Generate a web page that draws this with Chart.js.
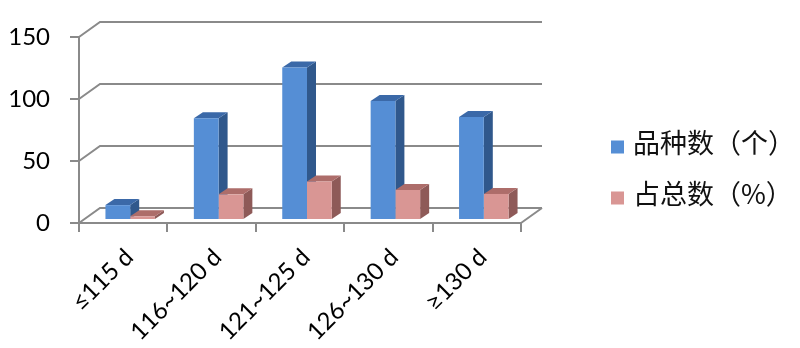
<!DOCTYPE html>
<html>
<head>
    <meta charset="utf-8"/>
    <title>品种数</title>
    <script src="https://cdn.jsdelivr.net/npm/chart.js@4.4.0/dist/chart.umd.min.js"></script>
    <style>
        html, body { margin: 0; padding: 0; background: #fff; }
        .chart-container { position: relative; width: 800px; height: 348px; }
    </style>
</head>
<body>
<div class="chart-container">
    <canvas id="daysChart"></canvas>
</div>
<script>
    const categories = ['≤115 d', '116~120 d', '121~125 d', '126~130 d', '≥130 d'];
    const varietyCount = [12, 82, 123, 96, 83];
    const sharePercent = [3.0, 20.7, 31.1, 24.2, 21.0];
    const seriesNames = ['品种数（个）', '占总数（%）'];
    const yTicks = [0, 50, 100, 150];

    // look of the fake 3D box
    const lineColor = '#8a8a8a';
    const wallDX = 21, wallDY = 15;      // depth of the walls
    const shiftX = 7, shiftY = 3;        // bars stand a bit behind the front plane
    const barDX = 9, barDY = 6;          // depth of each bar
    const faces = [
        {front: '#558ed5', side: '#30588c', top: '#3b69a8'},
        {front: '#d99694', side: '#8e5a58', top: '#ad6d6a'}
    ];

    /**
     * Draws walls, floor and the side/top faces of the bars,
     * then shifts the canvas so the library draws the front faces behind the front plane
     */
    const box3d = {
        id: 'box3d',
        beforeDatasetsDraw(chart) {
            const {ctx, chartArea: a, scales: {y}} = chart;
            ctx.save();
            ctx.strokeStyle = lineColor;
            ctx.lineWidth = 2;
            yTicks.forEach(v => {
                const py = y.getPixelForValue(v);
                ctx.beginPath();
                ctx.moveTo(a.left, py);
                ctx.lineTo(a.left + wallDX, py - wallDY);
                ctx.lineTo(a.right + wallDX, py - wallDY);
                ctx.stroke();
            });
            ctx.beginPath();
            ctx.moveTo(a.right, a.bottom);
            ctx.lineTo(a.right + wallDX, a.bottom - wallDY);
            ctx.stroke();

            chart.data.datasets.forEach((ds, i) => {
                const meta = chart.getDatasetMeta(i);
                meta.data.forEach(el => {
                    const l = el.x - el.width / 2 + shiftX;
                    const r = el.x + el.width / 2 + shiftX;
                    const t = el.y - shiftY;
                    const b = el.base - shiftY;
                    ctx.fillStyle = faces[i].side;
                    ctx.beginPath();
                    ctx.moveTo(r, t);
                    ctx.lineTo(r + barDX, t - barDY);
                    ctx.lineTo(r + barDX, b - barDY);
                    ctx.lineTo(r, b);
                    ctx.closePath();
                    ctx.fill();
                    ctx.fillStyle = faces[i].top;
                    ctx.beginPath();
                    ctx.moveTo(l, t);
                    ctx.lineTo(l + barDX, t - barDY);
                    ctx.lineTo(r + barDX, t - barDY);
                    ctx.lineTo(r, t);
                    ctx.closePath();
                    ctx.fill();
                });
            });
            ctx.restore();
            ctx.save();
            ctx.translate(shiftX, -shiftY);
        },
        afterDatasetsDraw(chart) {
            chart.ctx.restore();
        },
        afterDraw(chart) {
            // legend on the right
            const ctx = chart.ctx;
            const rows = [147, 198];
            ctx.save();
            ctx.font = '27px "Noto Sans CJK SC"';
            ctx.textBaseline = 'middle';
            ctx.textAlign = 'left';
            chart.data.datasets.forEach((ds, i) => {
                ctx.fillStyle = ds.backgroundColor;
                ctx.fillRect(611, rows[i] - 6.5, 13, 13);
                ctx.fillStyle = '#111';
                ctx.fillText(ds.label, 633, rows[i] - 4);
            });
            ctx.restore();
        }
    };

    const data = {
        labels: categories,
        datasets: [{
            label: seriesNames[0],
            data: varietyCount,
            backgroundColor: faces[0].front,
            clip: false
        }, {
            label: seriesNames[1],
            data: sharePercent,
            backgroundColor: faces[1].front,
            clip: false
        }]
    };

    const config = {
        type: 'bar',
        data: data,
        options: {
            responsive: true,
            maintainAspectRatio: false,
            animation: false,
            datasets: {
                bar: {categoryPercentage: 0.56, barPercentage: 1}
            },
            layout: {padding: {top: 37, right: 279, bottom: 0, left: 0}},
            plugins: {
                legend: {display: false},
                tooltip: {enabled: false}
            },
            scales: {
                x: {
                    border: {color: lineColor, width: 2},
                    grid: {offset: true, drawOnChartArea: false, color: lineColor, lineWidth: 2, tickLength: 9},
                    ticks: {
                        color: '#000',
                        font: {family: 'Lato, "Noto Sans CJK SC"', size: 24},
                        minRotation: 45,
                        maxRotation: 45,
                        autoSkip: false,
                        padding: 11,
                        labelOffset: 6
                    },
                    afterFit(scale) { scale.height = 125; }
                },
                y: {
                    min: 0,
                    max: 150,
                    border: {color: lineColor, width: 2},
                    grid: {drawOnChartArea: false, color: lineColor, lineWidth: 2, tickLength: 9},
                    ticks: {
                        stepSize: 50,
                        color: '#000',
                        font: {family: 'Lato', size: 24},
                        padding: 20
                    },
                    afterFit(scale) { scale.width = 79; }
                }
            }
        },
        plugins: [box3d]
    };

    const daysChart = new Chart(document.getElementById('daysChart'), config);
</script>
</body>
</html>
